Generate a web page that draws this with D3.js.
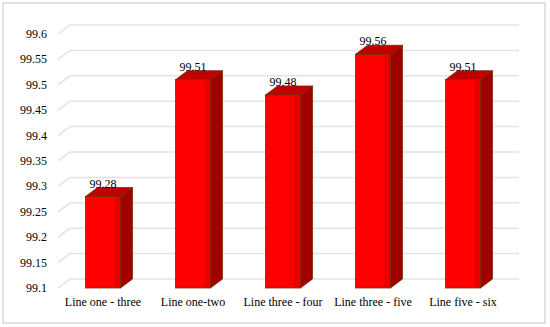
<!DOCTYPE html>
<meta charset="utf-8">
<script src="https://cdn.jsdelivr.net/npm/d3@7"></script>
<style>
  body { margin: 0; background: #fff; }
</style>
<body>
<script>

var categories = ["Line one - three", "Line one-two", "Line three - four", "Line three - five", "Line five - six"]
var values = [99.28, 99.51, 99.48, 99.56, 99.51]
var labels = ["99.28", "99.51", "99.48", "99.56", "99.51"]
var yTicks = [99.1, 99.15, 99.2, 99.25, 99.3, 99.35, 99.4, 99.45, 99.5, 99.55, 99.6]

var width = 550
var height = 327
var dx = 12, dy = 9   // 3d depth
var serif = "Liberation Serif"

var svg = d3.select("body").append("svg")
            .attr("width", width)
            .attr("height", height)

// chart frame
svg.append("rect")
   .attr("x", 3).attr("y", 3)
   .attr("width", 542).attr("height", 320)
   .style("fill", "#fff")
   .style("stroke", "#d9d9d9")
   .style("stroke-width", 1.5)

var x = d3.scaleBand().domain(categories).range([58, 508])
          .paddingInner(0.611).paddingOuter(0.3056)
var y = d3.scaleLinear().domain([99.1, 99.6]).range([288, 34])

// back wall gridlines with the little diagonal from the axis
var grid = svg.append("g").attr("id", "grid")
grid.selectAll("path")
    .data(yTicks)
    .enter().append("path")
    .attr("d", d => "M58," + y(d) + "L" + (58 + dx) + "," + (y(d) - dy) + "L519," + (y(d) - dy))
    .style("fill", "none")
    .style("stroke", "#e3e3e3")
    .style("stroke-width", 1.5)

// y labels
svg.append("g").selectAll("text")
   .data(yTicks)
   .enter().append("text")
   .attr("x", 47)
   .attr("y", d => y(d) + 4)
   .attr("font-family", serif)
   .attr("font-size", "12px")
   .attr("text-anchor", "end")
   .text(d => String(+d.toFixed(2)))

// bars
var bars = svg.append("g").attr("id", "bars")
  .selectAll("g")
  .data(values)
  .enter().append("g")

var outline = "#7a2a00"
bars.append("path")   // side
    .attr("d", (d, i) => {
      var x1 = x(categories[i]) + x.bandwidth(), y0 = y(99.1), y1 = y(d)
      return "M" + x1 + "," + y0 + "L" + (x1 + dx) + "," + (y0 - dy) + "L" + (x1 + dx) + "," + (y1 - dy) + "L" + x1 + "," + y1 + "Z"
    })
    .style("fill", "#a00000")
    .style("stroke", outline)
    .style("stroke-width", 0.8)

bars.append("path")   // top
    .attr("d", (d, i) => {
      var x0 = x(categories[i]), x1 = x0 + x.bandwidth(), y1 = y(d)
      return "M" + x0 + "," + y1 + "L" + (x0 + dx) + "," + (y1 - dy) + "L" + (x1 + dx) + "," + (y1 - dy) + "L" + x1 + "," + y1 + "Z"
    })
    .style("fill", "#c00000")
    .style("stroke", outline)
    .style("stroke-width", 0.8)

bars.append("rect")   // front
    .attr("x", (d, i) => x(categories[i]))
    .attr("y", d => y(d))
    .attr("width", x.bandwidth())
    .attr("height", d => y(99.1) - y(d))
    .style("fill", "#ff0000")
    .style("stroke", outline)
    .style("stroke-width", 0.8)

bars.append("rect")   // slightly darker strip at the front's right edge
    .attr("x", (d, i) => x(categories[i]) + x.bandwidth() - 6)
    .attr("y", d => y(d) + 0.5)
    .attr("width", 5.5)
    .attr("height", d => y(99.1) - y(d) - 1)
    .style("fill", "#e80000")

// value labels
bars.append("text")
    .attr("x", (d, i) => x(categories[i]) + x.bandwidth() / 2)
    .attr("y", d => y(d) - dy)
    .attr("font-family", serif)
    .attr("font-size", "12px")
    .attr("text-anchor", "middle")
    .text((d, i) => labels[i])

// category labels
svg.append("g").selectAll("text")
   .data(categories)
   .enter().append("text")
   .attr("x", d => x(d) + x.bandwidth() / 2)
   .attr("y", 306)
   .attr("font-family", serif)
   .attr("font-size", "12px")
   .attr("text-anchor", "middle")
   .text(d => d)

</script>
</body>
